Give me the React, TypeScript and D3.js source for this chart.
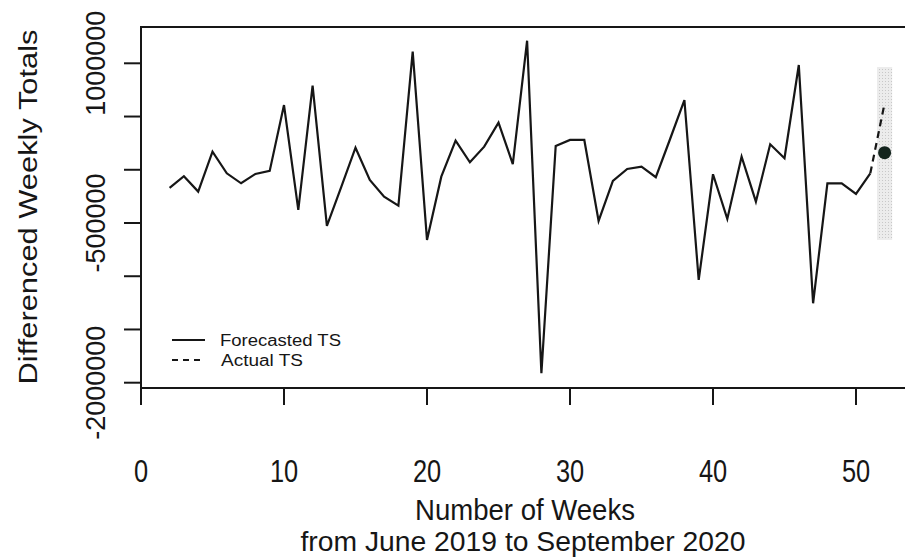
import React from "react";
import * as d3 from "d3";

const weeks = [2,3,4,5,6,7,8,9,10,11,12,13,14,15,16,17,18,19,20,21,22,23,24,25,26,27,28,29,30,31,32,33,34,35,36,37,38,39,40,41,42,43,44,45,46,47,48,49,50,51];
const forecasted = [-170000,-60000,-205000,170000,-33000,-127000,-39000,-11000,608000,-377000,790000,-528000,-162000,207000,-96000,-253000,-337000,1109000,-659000,-65000,273000,70000,217000,442000,54000,1212000,-1911000,223000,280000,280000,-481000,-105000,8000,29000,-70000,289000,655000,-1035000,-42000,-462000,123000,-300000,239000,108000,984000,-1254000,-127000,-127000,-227000,-33000];
const actualWeeks = [51, 52];
const actual = [-33000, 624000];
const forecastPoint = { week: 52, value: 161000, lower: -659000, upper: 965000 };
const xTicks = [0, 10, 20, 30, 40, 50];
const yTicks = [-2000000, -1500000, -1000000, -500000, 0, 500000, 1000000];
const yLabelTicks = [-2000000, -500000, 1000000];
const legendLabels = ["Forecasted TS", "Actual TS"];

export default function App() {
  const W = 905, H = 559;
  const x = d3.scaleLinear().domain([0, 50]).range([141, 856]);
  const y = d3.scaleLinear().domain([-2000000, 1000000]).range([382.7, 63.3]);
  const line = d3.line<[number, number]>().x(d => x(d[0])).y(d => y(d[1]));
  const fPts: [number, number][] = weeks.map((w, i) => [w, forecasted[i]]);
  const aPts: [number, number][] = actualWeeks.map((w, i) => [w, actual[i]]);
  const boxTop = 27, boxBottom = 388, boxLeft = 141, boxRight = x(54);
  const ink = "#161616";
  const font = "'Liberation Sans', Arial, sans-serif";
  return (
    <svg width={W} height={H} style={{ position: "absolute", left: 0, top: 0, background: "#fff" }}>
      <defs>
        <pattern id="dots" width="3" height="3" patternUnits="userSpaceOnUse">
          <rect width="3" height="3" fill="#ececec" />
          <rect width="1" height="1" fill="#c8c8c8" />
        </pattern>
      </defs>
      {/* prediction band */}
      <rect x={x(forecastPoint.week - 0.53)} y={y(forecastPoint.upper)} width={x(forecastPoint.week + 0.53) - x(forecastPoint.week - 0.53)} height={y(forecastPoint.lower) - y(forecastPoint.upper)} fill="url(#dots)" />
      {/* box */}
      <rect x={boxLeft} y={boxTop} width={boxRight - boxLeft} height={boxBottom - boxTop} fill="none" stroke={ink} strokeWidth={2} />
      {/* y axis ticks */}
      {yTicks.map(t => (
        <line key={t} x1={124} x2={boxLeft} y1={y(t)} y2={y(t)} stroke={ink} strokeWidth={2} />
      ))}
      {yLabelTicks.map(t => (
        <text key={t} transform={`translate(105,${y(t)}) rotate(-90)`} textAnchor="middle" fontFamily={font} fontSize={27} fill={ink}>{String(t)}</text>
      ))}
      {/* x axis ticks */}
      <line x1={x(0)} x2={x(50)} y1={boxBottom} y2={boxBottom} stroke={ink} strokeWidth={2} />
      {xTicks.map(t => (
        <g key={t}>
          <line x1={x(t)} x2={x(t)} y1={boxBottom} y2={405} stroke={ink} strokeWidth={2} />
          <text transform={`translate(${x(t)},482) scale(0.82,1)`} textAnchor="middle" fontFamily={font} fontSize={31} fill={ink}>{t}</text>
        </g>
      ))}
      {/* axis titles */}
      <text transform="translate(37,207) rotate(-90)" textAnchor="middle" fontFamily={font} fontSize={26} fill={ink} textLength={355} lengthAdjust="spacingAndGlyphs">Differenced Weekly Totals</text>
      <text x={525} y={520} textAnchor="middle" fontFamily={font} fontSize={29} fill={ink} textLength={220} lengthAdjust="spacingAndGlyphs">Number of Weeks</text>
      <text x={523} y={551} textAnchor="middle" fontFamily={font} fontSize={27} fill={ink} textLength={445} lengthAdjust="spacingAndGlyphs">from June 2019 to September 2020</text>
      {/* series */}
      <path d={line(fPts) || ""} fill="none" stroke={ink} strokeWidth={2.2} strokeLinejoin="miter" />
      <path d={line(aPts) || ""} fill="none" stroke={ink} strokeWidth={2.2} strokeDasharray="7,5" />
      <circle cx={x(forecastPoint.week)} cy={y(forecastPoint.value)} r={6.5} fill="#13241d" />
      {/* legend */}
      <line x1={172} x2={205} y1={340} y2={340} stroke={ink} strokeWidth={2} />
      <line x1={172} x2={205} y1={360} y2={360} stroke={ink} strokeWidth={2} strokeDasharray="6,5" />
      <text x={220} y={346} fontFamily={font} fontSize={16} fill={ink} textLength={121} lengthAdjust="spacingAndGlyphs">{legendLabels[0]}</text>
      <text x={221} y={366} fontFamily={font} fontSize={16} fill={ink} textLength={82} lengthAdjust="spacingAndGlyphs">{legendLabels[1]}</text>
    </svg>
  );
}
